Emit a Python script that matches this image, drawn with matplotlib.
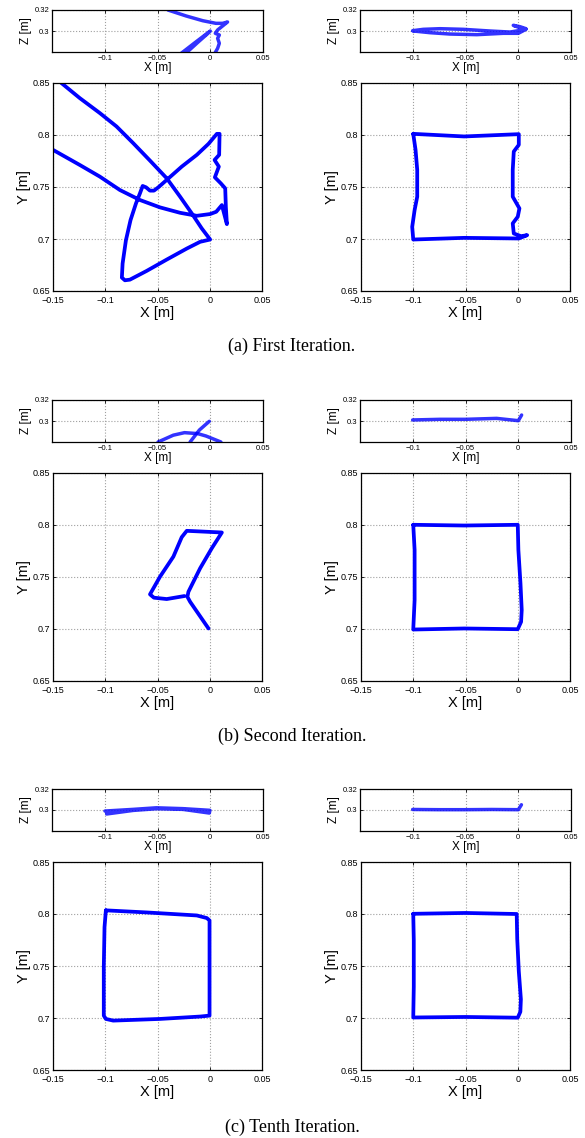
"""
Trajectory plots for three learning iterations: Z-X side view on top, Y-X view below,
left column is the first attempt, right column the reference/corrected path.
"""
import matplotlib
matplotlib.use('Agg')
import matplotlib.pyplot as plt

plt.rcParams['font.family'] = ['Liberation Sans', 'DejaVu Sans']

W, H = 585, 1138

# ---------------- first iteration, left ----------------
it1_left_x = [-0.142, -0.1244, -0.1052, -0.0892, -0.0732, -0.0572, -0.0412, -0.0284, -0.0172, -0.0076, 0.0004,
              -0.0092, -0.022, -0.0412, -0.0604, -0.0764, -0.0812, -0.0841,
              -0.0834, -0.0802, -0.0758, -0.0706, -0.0668, -0.0642,
              -0.061, -0.0572, -0.0534, -0.0492, -0.0412, -0.0268, -0.0124, -0.0012, 0.0068, 0.0094,
              0.009, 0.0046, 0.0087, 0.0049, 0.0106, 0.0148, 0.0154, 0.0164, 0.0116,
              0.0062, 0.0004, -0.0124, -0.0284, -0.0476, -0.0668, -0.086, -0.1052, -0.1244, -0.15]
it1_left_y = [0.850, 0.8355, 0.8211, 0.8082, 0.7921, 0.7754, 0.7584, 0.7407, 0.7246, 0.7101, 0.6995,
              0.6973, 0.6908, 0.6802, 0.6693, 0.6609, 0.6603, 0.6629,
              0.6764, 0.6989, 0.7182, 0.7342, 0.7439, 0.7510,
              0.7497, 0.7465, 0.7465, 0.7497, 0.7568, 0.7696, 0.7809, 0.7915, 0.8011, 0.8011,
              0.7809, 0.7760, 0.7696, 0.7593, 0.7535, 0.7487, 0.7310, 0.7143, 0.7326,
              0.7262, 0.7240, 0.7223, 0.7252, 0.7304, 0.7375, 0.7471, 0.7600, 0.7712, 0.7857]
it1_left_zx = [-0.0401, -0.0228, -0.0071, 0.0054, 0.0117, 0.0164, 0.0070, 0.0048, 0.0086, 0.0070, 0.0086,
               0.0070, 0.0039]
it1_left_z = [0.3200, 0.3143, 0.3098, 0.3073, 0.3073, 0.3086, 0.3010, 0.2978, 0.2962, 0.2930, 0.2883,
              0.2835, 0.2780]
it1_left_zx2 = [-0.0285, -0.015, 0.0, -0.003, -0.012, -0.024]
it1_left_z2 = [0.2780, 0.2885, 0.3000, 0.2970, 0.2890, 0.2780]

# ---------------- first iteration, right ----------------
it1_right_x = [-0.100, -0.0513, 0.001, 0.001, -0.0038, -0.0048, -0.0048, 0.0016, 0.0, -0.0048, -0.0038,
               0.0032, 0.0090, 0.001, -0.0513, -0.100, -0.101, -0.0987, -0.0962, -0.0962, -0.0978, -0.100]
it1_right_y = [0.8011, 0.7986, 0.8008, 0.7905, 0.7841, 0.7664, 0.7407, 0.7294, 0.7214, 0.7150, 0.7053,
               0.7027, 0.7037, 0.7005, 0.7011, 0.6995, 0.7117, 0.7278, 0.7407, 0.7664, 0.7857, 0.8011]
it1_right_zx = [-0.1001, -0.090, -0.0742, -0.0521, -0.0268, -0.0078, 0.0001, 0.0048, 0.0073, 0.0017, -0.0047,
                0.0017, 0.0073, 0.0001, -0.0141, -0.0394, -0.0647, -0.0837, -0.0994]
it1_right_z = [0.3003, 0.3016, 0.3022, 0.3016, 0.3000, 0.2990, 0.3003, 0.3016, 0.3022, 0.3041, 0.3054,
               0.3030, 0.3016, 0.2978, 0.2978, 0.2965, 0.2971, 0.2984, 0.3000]

# ---------------- second iteration, left ----------------
it2_left_x = [-0.0012, -0.0188, -0.0214, -0.0204, -0.0092, 0.002, 0.0116, -0.022, -0.0268, -0.0348,
              -0.0476, -0.0572, -0.0534, -0.0412, -0.0242]
it2_left_y = [0.7005, 0.7262, 0.7310, 0.7358, 0.7584, 0.7777, 0.7928, 0.7944, 0.7883, 0.7696,
              0.7503, 0.7333, 0.7301, 0.7288, 0.7317]
it2_left_zx = [-0.0009, -0.0103, -0.0191]
it2_left_z = [0.2997, 0.2914, 0.2800]
it2_left_zx2 = [-0.0495, -0.035, -0.0244, -0.012, -0.004, 0.0101]
it2_left_z2 = [0.2800, 0.2865, 0.2889, 0.2880, 0.2857, 0.2800]

# ---------------- second iteration, right ----------------
it2_right_x = [-0.100, -0.0513, 0.0, 0.0006, 0.0026, 0.0038, 0.0032, 0.0, -0.0513, -0.100, -0.0987, -0.0987, -0.100]
it2_right_y = [0.8002, 0.7995, 0.8002, 0.7760, 0.7439, 0.7182, 0.7069, 0.6998, 0.7005, 0.6995, 0.7278, 0.7760, 0.8002]
it2_right_zx = [-0.1001, -0.0742, -0.050, -0.0205, 0.0001, 0.0032]
it2_right_z = [0.3010, 0.3016, 0.3016, 0.3025, 0.3003, 0.3057]

# ---------------- tenth iteration, left ----------------
it10_left_x = [-0.0994, -0.0604, -0.0124, -0.0028, -0.0002, -0.0002, -0.0092, -0.0476, -0.0924, -0.0994,
               -0.1014, -0.1014, -0.1007, -0.0994]
it10_left_y = [0.8035, 0.8015, 0.7986, 0.7961, 0.7938, 0.7023, 0.7014, 0.6991, 0.6975, 0.6991,
               0.7023, 0.7489, 0.7874, 0.8035]
it10_left_zx = [-0.0998, -0.0731, -0.0511, -0.026, -0.0003, -0.0009, -0.026, -0.0511, -0.0731, -0.0982]
it10_left_z = [0.2990, 0.3006, 0.3021, 0.3013, 0.2997, 0.2971, 0.3006, 0.3012, 0.2996, 0.2962]

# ---------------- tenth iteration, right ----------------
it10_right_x = [-0.100, -0.050, -0.001, -0.0005, 0.001, 0.003, 0.0025, 0.0, -0.050, -0.100, -0.0995, -0.0995, -0.100]
it10_right_y = [0.8002, 0.8010, 0.8000, 0.7760, 0.7450, 0.7180, 0.7060, 0.7003, 0.7010, 0.7005, 0.7300, 0.7750, 0.8002]
it10_right_zx = [-0.1001, -0.075, -0.050, -0.025, 0.0001, 0.003]
it10_right_z = [0.3005, 0.3003, 0.3003, 0.3005, 0.3003, 0.3050]

captions = ['(a) First Iteration.', '(b) Second Iteration.', '(c) Tenth Iteration.']

# pixel tops of each row and caption centres
row_tops = [10, 400, 789]
caption_y = [346, 736, 1127]

xy_ticks_x = [-0.15, -0.1, -0.05, 0, 0.05]
xy_labels_x = ['\u22120.15', '\u22120.1', '\u22120.05', '0', '0.05']
xy_ticks_y = [0.65, 0.7, 0.75, 0.8, 0.85]
xy_labels_y = ['0.65', '0.7', '0.75', '0.8', '0.85']
z_ticks_x = [-0.1, -0.05, 0, 0.05]
z_labels_x = ['\u22120.1', '\u22120.05', '0', '0.05']

fig = plt.figure(figsize=(W / 100, H / 100), dpi=100)


def add_px(x0, y0, x1, y1):
    return fig.add_axes([x0 / W, 1 - y1 / H, (x1 - x0) / W, (y1 - y0) / H])


def style(ax):
    ax.grid(True, linestyle=':', color='#a0a0a0', linewidth=0.8)
    ax.tick_params(direction='in', length=2.5, width=0.6, top=True, right=True, pad=2)
    for s in ax.spines.values():
        s.set_linewidth(0.9)


def z_panel(x0, top, lines):
    ax = add_px(x0, top, x0 + 211, top + 42)
    for zx, z in lines:
        ax.plot(zx, z, color='blue', linewidth=2.5, alpha=0.8, solid_capstyle='round')
    ax.set_xlim(-0.15, 0.05)
    ax.set_ylim(0.28, 0.32)
    ax.set_xticks(z_ticks_x)
    ax.set_xticklabels(z_labels_x, fontsize=5.5)
    ax.set_yticks([0.3, 0.32])
    ax.set_yticklabels(['0.3', '0.32'], fontsize=5.5)
    ax.set_xlabel('X [m]', fontsize=8.5, labelpad=0)
    ax.set_ylabel('Z [m]', fontsize=8.5, labelpad=2)
    style(ax)
    return ax


def xy_panel(x0, top, xs, ys):
    ax = add_px(x0, top, x0 + 209, top + 208)
    ax.plot(xs, ys, color='blue', linewidth=2.7, solid_joinstyle='round', solid_capstyle='round')
    ax.set_xlim(-0.15, 0.05)
    ax.set_ylim(0.65, 0.85)
    ax.set_xticks(xy_ticks_x)
    ax.set_xticklabels(xy_labels_x, fontsize=6.5)
    ax.set_yticks(xy_ticks_y)
    ax.set_yticklabels(xy_labels_y, fontsize=6.5)
    ax.set_xlabel('X [m]', fontsize=10.5, labelpad=0.5)
    ax.set_ylabel('Y [m]', fontsize=10.5, labelpad=1)
    style(ax)
    ax.tick_params(axis='x', pad=3.5)
    return ax


panels = [
    ([(it1_left_zx, it1_left_z), (it1_left_zx2, it1_left_z2)], (it1_left_x, it1_left_y),
     [(it1_right_zx, it1_right_z)], (it1_right_x, it1_right_y)),
    ([(it2_left_zx, it2_left_z), (it2_left_zx2, it2_left_z2)], (it2_left_x, it2_left_y),
     [(it2_right_zx, it2_right_z)], (it2_right_x, it2_right_y)),
    ([(it10_left_zx, it10_left_z)], (it10_left_x, it10_left_y),
     [(it10_right_zx, it10_right_z)], (it10_right_x, it10_right_y)),
]

for row, (zl, xyl, zr, xyr) in enumerate(panels):
    top = row_tops[row]
    z_panel(52, top, zl)
    xy_panel(53, top + 73, *xyl)
    z_panel(360, top, zr)
    xy_panel(361, top + 73, *xyr)
    fig.text(292 / W, 1 - caption_y[row] / H, captions[row], ha='center', va='center',
             fontsize=13, family='Liberation Serif')

fig.savefig('out.png', dpi=100)
